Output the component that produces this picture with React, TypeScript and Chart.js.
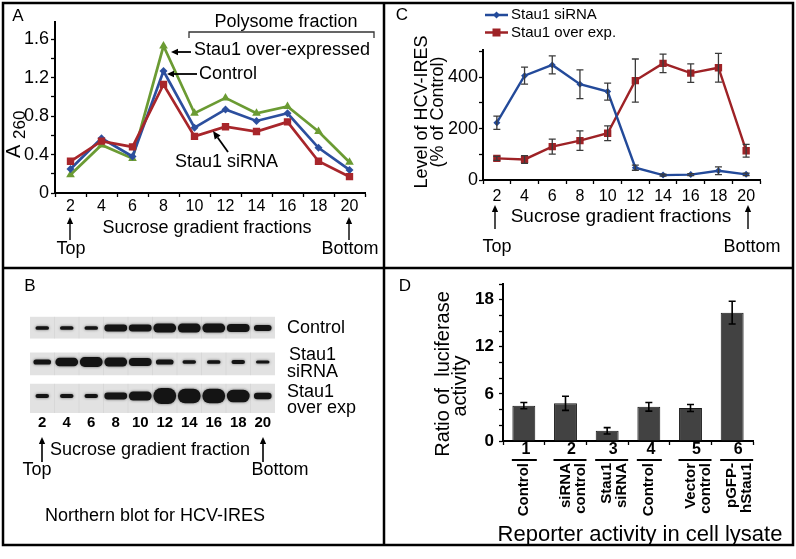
import React, { useEffect, useRef } from 'react';
import { Chart, registerables } from 'chart.js';
Chart.register(...registerables);

const FF = '"Liberation Sans", Arial, Helvetica, sans-serif';
const W = 796;
const H = 559;

// ---------- Panel A data ----------
const FRACTIONS = ['2', '4', '6', '8', '10', '12', '14', '16', '18', '20'];
const A_CONTROL = [0.25, 0.57, 0.38, 1.27, 0.68, 0.87, 0.75, 0.83, 0.47, 0.24];
const A_SIRNA = [0.33, 0.54, 0.48, 1.13, 0.59, 0.69, 0.64, 0.74, 0.33, 0.17];
const A_OVER = [0.19, 0.5, 0.36, 1.53, 0.83, 0.99, 0.83, 0.9, 0.64, 0.32];
const A_Y_MAX = 1.78;
const A_Y_TICKS = [0, 0.2, 0.4, 0.6, 0.8, 1.0, 1.2, 1.4, 1.6];
const A_Y_LABELS = ['0', '', '0.4', '', '0.8', '', '1.2', '', '1.6'];

// ---------- Panel B data (band thickness, fraction of lane spacing) ----------
const B_LANES = ['Control', 'Stau1 siRNA', 'Stau1 over exp'];
const B_CONTROL = [0.11, 0.11, 0.11, 0.2, 0.2, 0.26, 0.26, 0.26, 0.24, 0.18];
const B_SIRNA = [0.15, 0.25, 0.29, 0.26, 0.24, 0.15, 0.1, 0.11, 0.12, 0.09];
const B_OVER = [0.12, 0.12, 0.12, 0.2, 0.26, 0.47, 0.43, 0.43, 0.37, 0.19];
const B_STRIP_TOP = [0.32, 0.27, 0.35];
const B_STRIP_BOTTOM = [0.3, 0.38, 0.5];

// ---------- Panel C data ----------
const C_SIRNA = [223, 406, 448, 373, 344, 48, 19, 21, 36, 22];
const C_SIRNA_ERR = [26, 33, 35, 56, 33, 10, 4, 4, 15, 5];
const C_OVER = [84, 80, 130, 153, 182, 387, 454, 416, 437, 114];
const C_OVER_ERR = [8, 15, 29, 38, 29, 84, 36, 36, 56, 25];
const C_Y_MAX = 506;
const C_Y_TICKS = [0, 100, 200, 300, 400, 500];
const C_Y_LABELS = ['0', '', '200', '', '400', ''];

// ---------- Panel D data ----------
const D_NUMS = ['1', '2', '3', '4', '5', '6'];
const D_CATS = [['Control'], ['siRNA', 'control'], ['Stau1', 'siRNA'], ['Control'], ['Vector', 'control'], ['pGFP-', 'hStau1']];
const D_VALUES = [4.5, 4.8, 1.3, 4.35, 4.2, 16.35];
const D_ERR = [0.4, 0.9, 0.4, 0.55, 0.45, 1.45];
const D_Y_MAX = 20;
const D_Y_TICKS = [0, 2, 4, 6, 8, 10, 12, 14, 16, 18, 20];
const D_Y_LABELS = ['0', '', '', '6', '', '', '12', '', '', '18', ''];

const BLUE_A = '#2c4f9e';
const RED_A = '#a8262b';
const GREEN_A = '#6b9b33';
const BLUE_C = '#234a9a';
const RED_C = '#9e2226';

function fnt(size: number, weight = 'normal') {
  return `${weight} ${size}px ${FF}`;
}

function text(ctx: any, s: string, x: number, y: number, size: number, o: any = {}) {
  ctx.save();
  ctx.font = fnt(size, o.weight || 'normal');
  ctx.fillStyle = o.color || '#000';
  ctx.textAlign = o.align || 'center';
  ctx.textBaseline = o.baseline || 'middle';
  if (o.rot) {
    ctx.translate(x, y);
    ctx.rotate(o.rot);
    ctx.fillText(s, 0, 0);
  } else {
    ctx.fillText(s, x, y);
  }
  ctx.restore();
}

function arrow(ctx: any, x1: number, y1: number, x2: number, y2: number, head = 7, lw = 1.6) {
  const a = Math.atan2(y2 - y1, x2 - x1);
  const bx = x2 - head * Math.cos(a);
  const by = y2 - head * Math.sin(a);
  ctx.save();
  ctx.strokeStyle = '#000';
  ctx.fillStyle = '#000';
  ctx.lineWidth = lw;
  ctx.beginPath();
  ctx.moveTo(x1, y1);
  ctx.lineTo(bx, by);
  ctx.stroke();
  ctx.beginPath();
  ctx.moveTo(x2, y2);
  ctx.lineTo(bx + head * 0.45 * Math.sin(a), by - head * 0.45 * Math.cos(a));
  ctx.lineTo(bx - head * 0.45 * Math.sin(a), by + head * 0.45 * Math.cos(a));
  ctx.closePath();
  ctx.fill();
  ctx.restore();
}

function line(ctx: any, pts: number[][], lw = 1.5, color = '#000') {
  ctx.save();
  ctx.strokeStyle = color;
  ctx.lineWidth = lw;
  ctx.beginPath();
  pts.forEach((p, i) => (i ? ctx.lineTo(p[0], p[1]) : ctx.moveTo(p[0], p[1])));
  ctx.stroke();
  ctx.restore();
}

function errorBars(errs: (number[] | null)[], color: string, halfCap: number, lw: number) {
  return {
    id: 'errorBars',
    afterDatasetsDraw(chart: any) {
      const ctx = chart.ctx;
      const ys = chart.scales.y;
      ctx.save();
      ctx.strokeStyle = color;
      ctx.lineWidth = lw;
      chart.data.datasets.forEach((ds: any, i: number) => {
        const e = errs[i];
        if (!e) return;
        const meta = chart.getDatasetMeta(i);
        meta.data.forEach((el: any, j: number) => {
          const v = ds.data[j];
          const t = ys.getPixelForValue(v + e[j]);
          const b = ys.getPixelForValue(v - e[j]);
          const x = el.x;
          ctx.beginPath();
          ctx.moveTo(x, t);
          ctx.lineTo(x, b);
          ctx.moveTo(x - halfCap, t);
          ctx.lineTo(x + halfCap, t);
          ctx.moveTo(x - halfCap, b);
          ctx.lineTo(x + halfCap, b);
          ctx.stroke();
        });
      });
      ctx.restore();
    },
  };
}

const frame = {
  id: 'frame',
  afterDraw(chart: any) {
    const ctx = chart.ctx;
    ctx.save();
    ctx.strokeStyle = '#000';
    ctx.lineWidth = 2.5;
    ctx.strokeRect(3, 3, 790, 542);
    ctx.beginPath();
    ctx.moveTo(384, 3);
    ctx.lineTo(384, 545);
    ctx.moveTo(3, 268);
    ctx.lineTo(793, 268);
    ctx.stroke();
    ctx.restore();
  },
};

const annotA = {
  id: 'annotA',
  afterDraw(chart: any) {
    const ctx = chart.ctx;
    text(ctx, 'A', 18, 16, 17);
    text(ctx, 'Polysome fraction', 286, 22, 18);
    line(ctx, [[189, 38], [189, 32], [374, 32], [374, 38]], 1.3, '#333');
    text(ctx, 'Stau1 over-expressed', 194, 50, 18, { align: 'left' });
    arrow(ctx, 191, 52, 171, 52, 7, 1.8);
    text(ctx, 'Control', 199, 74, 18, { align: 'left' });
    arrow(ctx, 197, 74, 167, 74, 7, 1.8);
    text(ctx, 'Stau1 siRNA', 175, 162, 18, { align: 'left' });
    arrow(ctx, 228, 152, 213, 131, 8, 1.8);
    text(ctx, 'A', 14, 158, 20, { align: 'left', rot: -Math.PI / 2 });
    text(ctx, '260', 20, 139, 17, { align: 'left', rot: -Math.PI / 2 });
    text(ctx, 'Sucrose gradient fractions', 207, 228, 18);
    arrow(ctx, 70, 240, 70, 217, 7, 1.4);
    text(ctx, 'Top', 71, 249, 18);
    arrow(ctx, 349, 240, 349, 217, 7, 1.4);
    text(ctx, 'Bottom', 350, 249, 18);
  },
};

const annotB = {
  id: 'annotB',
  beforeDatasetDraw(chart: any, args: any) {
    const ds = chart.data.datasets[args.index];
    if (ds && ds.isBand) {
      chart.ctx.save();
      chart.ctx.shadowColor = 'rgba(0,0,0,0.55)';
      chart.ctx.shadowBlur = 3;
    }
  },
  afterDatasetDraw(chart: any, args: any) {
    const ds = chart.data.datasets[args.index];
    if (ds && ds.isBand) chart.ctx.restore();
  },
  afterDraw(chart: any) {
    const ctx = chart.ctx;
    text(ctx, 'B', 30, 286, 17);
    text(ctx, 'Control', 287, 328, 18, { align: 'left' });
    text(ctx, 'Stau1', 289, 355, 18, { align: 'left' });
    text(ctx, 'siRNA', 287, 372, 18, { align: 'left' });
    text(ctx, 'Stau1', 287, 392, 18, { align: 'left' });
    text(ctx, 'over exp', 287, 408, 18, { align: 'left' });
    arrow(ctx, 42, 462, 42, 437, 7, 1.6);
    text(ctx, 'Top', 37, 470, 18);
    text(ctx, 'Sucrose gradient fraction', 150, 450, 18);
    arrow(ctx, 263, 462, 263, 437, 7, 1.6);
    text(ctx, 'Bottom', 280, 470, 18);
    text(ctx, 'Northern blot for HCV-IRES', 155, 516, 18);
  },
};

const annotC = {
  id: 'annotC',
  afterDraw(chart: any) {
    const ctx = chart.ctx;
    text(ctx, 'C', 402, 15, 17);
    line(ctx, [[485, 15], [508, 15]], 2.5, BLUE_C);
    ctx.save();
    ctx.fillStyle = BLUE_C;
    ctx.beginPath();
    ctx.moveTo(496.5, 11.5);
    ctx.lineTo(500, 15);
    ctx.lineTo(496.5, 18.5);
    ctx.lineTo(493, 15);
    ctx.closePath();
    ctx.fill();
    ctx.fillStyle = RED_C;
    ctx.fillRect(492.5, 28.5, 8, 8);
    ctx.restore();
    line(ctx, [[485, 32.5], [508, 32.5]], 2.5, RED_C);
    text(ctx, 'Stau1 siRNA', 511, 15, 15, { align: 'left' });
    text(ctx, 'Stau1 over exp.', 511, 32.5, 15, { align: 'left' });
    text(ctx, 'Level of HCV-IRES', 422, 112, 18, { rot: -Math.PI / 2 });
    text(ctx, '(% of Control)', 438, 112, 18, { rot: -Math.PI / 2 });
    text(ctx, 'Sucrose gradient fractions', 621, 217, 19);
    arrow(ctx, 495, 229, 495, 205, 7, 1.4);
    text(ctx, 'Top', 497, 247, 18);
    arrow(ctx, 748, 229, 748, 205, 7, 1.4);
    text(ctx, 'Bottom', 752, 247, 18);
  },
};

const annotD = {
  id: 'annotD',
  afterDraw(chart: any) {
    const ctx = chart.ctx;
    const xs = chart.scales.x;
    text(ctx, 'D', 405, 286, 17);
    D_NUMS.forEach((n, i) => {
      const cx = xs.getPixelForValue(i);
      const extra = (D_CATS[i].length - 1) * 8;
      text(ctx, n, cx + extra / 2 + 2, 450, 16, { weight: 'bold' });
      line(ctx, [[cx - 12, 460], [cx + 13 + extra, 460]], 2, '#000');
    });
    text(ctx, 'Ratio of  luciferase', 443, 374, 20, { rot: -Math.PI / 2 });
    text(ctx, 'activity', 460, 386, 20, { rot: -Math.PI / 2 });
    text(ctx, 'Reporter activity in cell lysate', 640, 535, 22);
  },
};

const tickGrid = { display: true, offset: true, drawOnChartArea: false, drawTicks: true, tickLength: 4, tickColor: '#000', tickWidth: 1.3 };
const axisBorder = { display: true, color: '#000', width: 2 };

function yAxis(max: number, ticks: number[], labels: string[], size: number, weight: string, padding: number) {
  return {
    type: 'linear',
    min: 0,
    max,
    grid: { ...tickGrid, offset: false },
    border: axisBorder,
    afterBuildTicks: (s: any) => {
      s.ticks = ticks.map((v) => ({ value: v }));
    },
    ticks: {
      autoSkip: false,
      color: '#000',
      font: { family: FF, size, weight },
      padding,
      callback: (_v: any, i: number) => labels[i],
    },
    afterFit: (s: any) => {
      s.width = 50;
    },
  };
}

function makeA(canvas: HTMLCanvasElement) {
  return new Chart(canvas, {
    type: 'line',
    data: {
      labels: FRACTIONS,
      datasets: [
        { label: 'Stau1 siRNA', data: A_SIRNA, borderColor: RED_A, backgroundColor: RED_A, pointStyle: 'rect', pointRadius: 5.2, pointBorderWidth: 0, borderWidth: 2.7, order: 0 },
        { label: 'Control', data: A_CONTROL, borderColor: BLUE_A, backgroundColor: BLUE_A, pointStyle: 'rectRot', pointRadius: 4, pointBorderWidth: 0, borderWidth: 2.7, order: 1 },
        { label: 'Stau1 over-expressed', data: A_OVER, borderColor: GREEN_A, backgroundColor: GREEN_A, pointStyle: 'triangle', pointRadius: 5, pointBorderWidth: 0, borderWidth: 2.7, order: 2 },
      ],
    },
    options: {
      responsive: false,
      animation: false,
      devicePixelRatio: 1,
      layout: { padding: { left: 5, top: 22, right: 431, bottom: 336 } },
      plugins: { legend: { display: false }, tooltip: { enabled: false } },
      scales: {
        x: {
          type: 'category',
          offset: true,
          grid: tickGrid,
          border: axisBorder,
          ticks: { color: '#000', font: { family: FF, size: 16 }, padding: 0, maxRotation: 0, autoSkip: false },
          afterFit: (s: any) => { s.height = 30; },
        },
        y: yAxis(A_Y_MAX, A_Y_TICKS, A_Y_LABELS, 18, 'normal', 2),
      },
    } as any,
    plugins: [annotA, frame],
  });
}

function makeB(canvas: HTMLCanvasElement) {
  const lanes = [B_CONTROL, B_SIRNA, B_OVER];
  const datasets: any[] = [];
  lanes.forEach((bands, r) => {
    const row = r + 1;
    datasets.push({
      label: B_LANES[r] + ' membrane',
      data: FRACTIONS.map(() => [row - B_STRIP_TOP[r], row + B_STRIP_BOTTOM[r]]),
      backgroundColor: 'rgba(190,190,190,0.45)',
      borderWidth: 0,
      barPercentage: 1,
      categoryPercentage: 1,
      grouped: false,
      order: 10,
    });
    const classes = [
      { lo: 0.2, hi: 9, bp: 0.93 },
      { lo: 0.13, hi: 0.2, bp: 0.72 },
      { lo: 0, hi: 0.13, bp: 0.55 },
    ];
    classes.forEach((c) => {
      datasets.push({
        label: B_LANES[r],
        isBand: true,
        data: bands.map((t) => (t >= c.lo && t < c.hi ? [row - t / 2, row + t / 2] : null)),
        backgroundColor: '#141414',
        borderWidth: 0,
        borderSkipped: false,
        borderRadius: 30,
        barPercentage: c.bp,
        categoryPercentage: 1,
        grouped: false,
        order: 0,
      });
    });
  });
  return new Chart(canvas, {
    type: 'bar',
    data: { labels: FRACTIONS, datasets },
    options: {
      responsive: false,
      animation: false,
      devicePixelRatio: 1,
      layout: { padding: { left: 30, top: 311, right: 521, bottom: 126 } },
      plugins: { legend: { display: false }, tooltip: { enabled: false } },
      scales: {
        x: {
          type: 'category',
          grid: { display: false, drawTicks: false },
          border: { display: false },
          ticks: { color: '#000', font: { family: FF, size: 15, weight: 'bold' }, padding: 1, maxRotation: 0, autoSkip: false },
          afterFit: (s: any) => { s.height = 20; },
        },
        y: { type: 'linear', min: 0.5, max: 3.5, reverse: true, display: false },
      },
    } as any,
    plugins: [annotB],
  });
}

function makeC(canvas: HTMLCanvasElement) {
  return new Chart(canvas, {
    type: 'line',
    data: {
      labels: FRACTIONS,
      datasets: [
        { label: 'Stau1 siRNA', data: C_SIRNA, borderColor: BLUE_C, backgroundColor: BLUE_C, pointStyle: 'rectRot', pointRadius: 3.5, pointBorderWidth: 0, borderWidth: 2.4, order: 0 },
        { label: 'Stau1 over exp.', data: C_OVER, borderColor: RED_C, backgroundColor: RED_C, pointStyle: 'rect', pointRadius: 5.2, pointBorderWidth: 0, borderWidth: 2.4, order: 1 },
      ],
    },
    options: {
      responsive: false,
      animation: false,
      devicePixelRatio: 1,
      layout: { padding: { left: 433, top: 50, right: 36, bottom: 349 } },
      plugins: { legend: { display: false }, tooltip: { enabled: false } },
      scales: {
        x: {
          type: 'category',
          offset: true,
          grid: tickGrid,
          border: axisBorder,
          ticks: { color: '#000', font: { family: FF, size: 16 }, padding: 3, maxRotation: 0, autoSkip: false },
          afterFit: (s: any) => { s.height = 30; },
        },
        y: yAxis(C_Y_MAX, C_Y_TICKS, C_Y_LABELS, 18, 'normal', 1),
      },
    } as any,
    plugins: [errorBars([C_SIRNA_ERR, C_OVER_ERR], '#3a3a3a', 3.5, 1.3), annotC],
  });
}

function makeD(canvas: HTMLCanvasElement) {
  return new Chart(canvas, {
    type: 'bar',
    data: {
      labels: D_CATS,
      datasets: [
        { label: 'Ratio of luciferase activity', data: D_VALUES, backgroundColor: '#424242', borderColor: '#1a1a1a', borderWidth: 1, barPercentage: 0.55, categoryPercentage: 1 },
      ],
    },
    options: {
      responsive: false,
      animation: false,
      devicePixelRatio: 1,
      layout: { padding: { left: 453, top: 284, right: 43, bottom: 38 } },
      plugins: { legend: { display: false }, tooltip: { enabled: false } },
      scales: {
        x: {
          type: 'category',
          offset: true,
          grid: tickGrid,
          border: axisBorder,
          ticks: { color: '#000', font: { family: FF, size: 15, weight: 'bold', lineHeight: 1.0 }, padding: 18, minRotation: 90, maxRotation: 90, autoSkip: false },
          afterFit: (s: any) => { s.height = 80; },
        },
        y: yAxis(D_Y_MAX, D_Y_TICKS, D_Y_LABELS, 17, 'bold', 5),
      },
    } as any,
    plugins: [errorBars([D_ERR], '#000', 3.5, 1.6), annotD],
  });
}

export default function App() {
  const r0 = useRef<HTMLCanvasElement>(null);
  const r1 = useRef<HTMLCanvasElement>(null);
  const r2 = useRef<HTMLCanvasElement>(null);
  const r3 = useRef<HTMLCanvasElement>(null);
  useEffect(() => {
    const charts = [makeA(r0.current!), makeB(r1.current!), makeC(r2.current!), makeD(r3.current!)];
    return () => charts.forEach((c) => c.destroy());
  }, []);
  const cs: any = { position: 'absolute', left: 0, top: 0, width: W, height: H };
  return (
    <div style={{ position: 'absolute', left: 0, top: 0, width: W, height: H, background: '#fff', overflow: 'hidden' }}>
      <canvas ref={r0} width={W} height={H} style={cs} />
      <canvas ref={r1} width={W} height={H} style={cs} />
      <canvas ref={r2} width={W} height={H} style={cs} />
      <canvas ref={r3} width={W} height={H} style={cs} />
    </div>
  );
}
